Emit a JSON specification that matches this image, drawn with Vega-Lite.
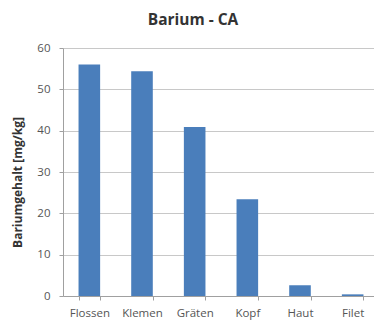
{
  "$schema": "https://vega.github.io/schema/vega-lite/v6.json",
  "width": 316,
  "height": 248,
  "autosize": {"type": "none"},
  "padding": {"left": 63, "top": 48, "right": -5, "bottom": 30},
  "background": "white",
  "title": {
    "text": "Barium - CA",
    "font": "Open Sans",
    "fontSize": 15.5,
    "fontWeight": "bold",
    "color": "#333333",
    "anchor": "middle",
    "dx": -28,
    "offset": 14
  },
  "data": {
    "values": [
      {"teil": "Flossen", "wert": 56.0},
      {"teil": "Klemen", "wert": 54.4},
      {"teil": "Gräten", "wert": 40.9},
      {"teil": "Kopf", "wert": 23.4},
      {"teil": "Haut", "wert": 2.6},
      {"teil": "Filet", "wert": 0.4}
    ]
  },
  "mark": {"type": "bar", "color": "#4a7ebb"},
  "encoding": {
    "x": {
      "field": "teil",
      "type": "nominal",
      "sort": null,
      "scale": {"paddingInner": 0.59, "paddingOuter": 0.295},
      "axis": {
        "title": null,
        "labelAngle": 0,
        "labelFont": "Open Sans",
        "labelFontSize": 11.5,
        "labelColor": "#555555",
        "labelPadding": 7,
        "tickBand": "extent",
        "tickSize": 4,
        "tickColor": "#a0a0a0",
        "domainColor": "#a0a0a0",
        "grid": false
      }
    },
    "y": {
      "field": "wert",
      "type": "quantitative",
      "scale": {"domain": [0, 60]},
      "axis": {
        "title": "Bariumgehalt [mg/kg]",
        "titleFont": "Open Sans",
        "titleFontSize": 12,
        "titleFontWeight": "bold",
        "titleColor": "#333333",
        "titleX": -39,
        "titleY": 134,
        "values": [0, 10, 20, 30, 40, 50, 60],
        "labelFont": "Open Sans",
        "labelFontSize": 11.5,
        "labelColor": "#555555",
        "labelPadding": 9,
        "tickSize": 4,
        "tickColor": "#a0a0a0",
        "domainColor": "#a0a0a0",
        "gridColor": "#c8c8c8"
      }
    }
  },
  "config": {"view": {"stroke": null}}
}
